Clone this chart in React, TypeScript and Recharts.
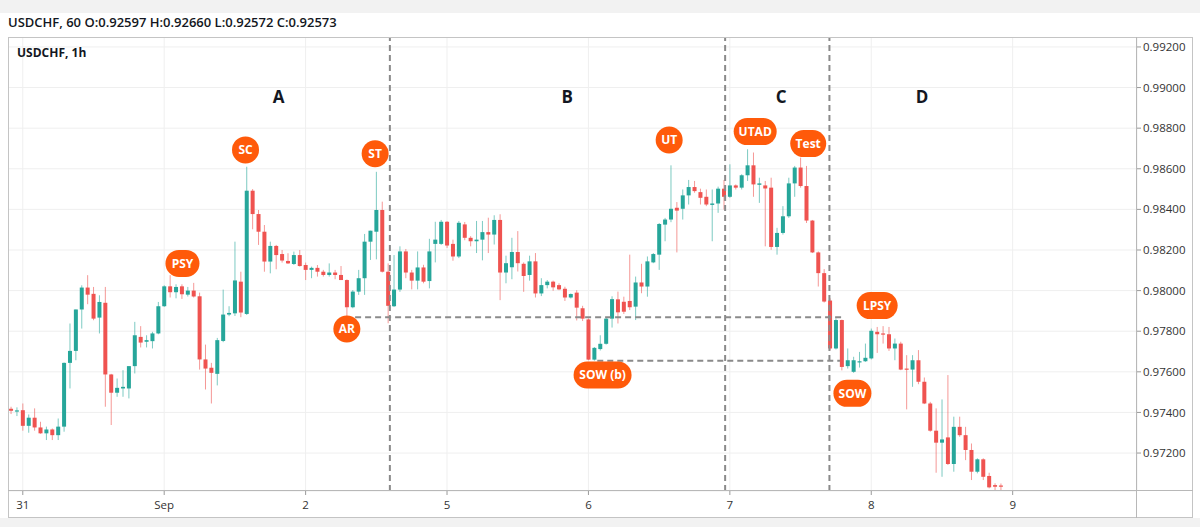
import React from 'react';
import { ComposedChart, Bar, XAxis, YAxis, CartesianGrid, ReferenceLine, ReferenceDot } from 'recharts';

// ---- hourly USDCHF candles (index = hour since Aug 30 22:00) ----
const opens = [
  0.97418, 0.97405, 0.97411, 0.97334, 0.97374, 0.97326, 0.97297, 0.97316, 0.97288, 0.97330,
  0.97644, 0.97703, 0.97907, 0.98015, 0.97984, 0.97867, 0.97940, 0.97587, 0.97497, 0.97518,
  0.97518, 0.97628, 0.97772, 0.97748, 0.97751, 0.97789, 0.97923, 0.98021, 0.97992, 0.98021,
  0.97980, 0.98000, 0.97972, 0.97661, 0.97620, 0.97590, 0.97752, 0.97882, 0.97888, 0.98044,
  0.97885, 0.98492, 0.98377, 0.98290, 0.98143, 0.98220, 0.98180, 0.98146, 0.98131, 0.98175,
  0.98126, 0.98102, 0.98112, 0.98093, 0.98077, 0.98089, 0.98077, 0.98052, 0.97918, 0.97995,
  0.98061, 0.98241, 0.98290, 0.98397, 0.98093, 0.97923, 0.98005, 0.98193, 0.98089, 0.98049,
  0.98114, 0.98047, 0.98230, 0.98230, 0.98339, 0.98230, 0.98168, 0.98326, 0.98260, 0.98243,
  0.98251, 0.98288, 0.98276, 0.98348, 0.98089, 0.98115, 0.98190, 0.98132, 0.98077, 0.98144,
  0.97986, 0.98027, 0.98044, 0.98027, 0.98009, 0.97966, 0.97990, 0.97913, 0.97858, 0.97660,
  0.97712, 0.97738, 0.97862, 0.97957, 0.97945, 0.97949, 0.97921, 0.98040, 0.98020, 0.98139,
  0.98177, 0.98325, 0.98350, 0.98408, 0.98403, 0.98469, 0.98510, 0.98485, 0.98462, 0.98422,
  0.98429, 0.98502, 0.98462, 0.98518, 0.98507, 0.98568, 0.98617, 0.98521, 0.98518, 0.98507,
  0.98215, 0.98284, 0.98366, 0.98528, 0.98606, 0.98515, 0.98345, 0.98188, 0.98086, 0.97951,
  0.97715, 0.97855, 0.97628, 0.97600, 0.97647, 0.97652, 0.97666, 0.97797, 0.97789, 0.97785,
  0.97715, 0.97739, 0.97616, 0.97611, 0.97657, 0.97551, 0.97444, 0.97310, 0.97251, 0.97277,
  0.97146, 0.97329, 0.97288, 0.97215, 0.97108, 0.97169, 0.97087, 0.97042, 0.97040,
];
const highs = [
  0.97428, 0.97425, 0.97444, 0.97390, 0.97420, 0.97354, 0.97330, 0.97321, 0.97370, 0.97646,
  0.97838, 0.97907, 0.98026, 0.98076, 0.98018, 0.97977, 0.98018, 0.97590, 0.97567, 0.97608,
  0.97628, 0.97846, 0.97825, 0.97780, 0.97797, 0.97944, 0.98026, 0.98076, 0.98031, 0.98031,
  0.98018, 0.98038, 0.97990, 0.97734, 0.97644, 0.97767, 0.98005, 0.97923, 0.98241, 0.98093,
  0.98610, 0.98500, 0.98397, 0.98323, 0.98241, 0.98225, 0.98200, 0.98184, 0.98192, 0.98200,
  0.98138, 0.98118, 0.98126, 0.98102, 0.98134, 0.98102, 0.98121, 0.98055, 0.98003, 0.98102,
  0.98279, 0.98295, 0.98585, 0.98438, 0.98134, 0.98175, 0.98218, 0.98205, 0.98102, 0.98193,
  0.98127, 0.98255, 0.98339, 0.98348, 0.98342, 0.98251, 0.98343, 0.98338, 0.98268, 0.98343,
  0.98343, 0.98359, 0.98371, 0.98376, 0.98172, 0.98260, 0.98293, 0.98139, 0.98172, 0.98185,
  0.98061, 0.98052, 0.98049, 0.98036, 0.98019, 0.97986, 0.98002, 0.97925, 0.97863, 0.97722,
  0.97780, 0.97866, 0.97972, 0.97995, 0.97970, 0.98177, 0.98069, 0.98132, 0.98168, 0.98185,
  0.98333, 0.98358, 0.98617, 0.98436, 0.98498, 0.98545, 0.98540, 0.98502, 0.98498, 0.98498,
  0.98512, 0.98545, 0.98622, 0.98523, 0.98573, 0.98696, 0.98680, 0.98556, 0.98540, 0.98556,
  0.98309, 0.98416, 0.98556, 0.98614, 0.98655, 0.98614, 0.98348, 0.98193, 0.98106, 0.97962,
  0.97863, 0.97857, 0.97715, 0.97674, 0.97698, 0.97739, 0.97813, 0.97821, 0.97825, 0.97821,
  0.97764, 0.97748, 0.97682, 0.97682, 0.97707, 0.97572, 0.97452, 0.97420, 0.97464, 0.97584,
  0.97379, 0.97379, 0.97329, 0.97247, 0.97174, 0.97174, 0.97103, 0.97051, 0.97050,
];
const lows = [
  0.97392, 0.97382, 0.97310, 0.97300, 0.97310, 0.97295, 0.97264, 0.97264, 0.97264, 0.97305,
  0.97518, 0.97657, 0.97813, 0.97933, 0.97854, 0.97789, 0.97428, 0.97338, 0.97477, 0.97477,
  0.97469, 0.97592, 0.97720, 0.97720, 0.97715, 0.97785, 0.97920, 0.97966, 0.97962, 0.97959,
  0.97971, 0.97966, 0.97611, 0.97513, 0.97444, 0.97533, 0.97746, 0.97874, 0.97875, 0.97869,
  0.97880, 0.98302, 0.98225, 0.98093, 0.98085, 0.98105, 0.98138, 0.98131, 0.98126, 0.98118,
  0.98052, 0.98061, 0.98069, 0.98069, 0.98069, 0.98056, 0.98052, 0.97872, 0.97913, 0.97979,
  0.97979, 0.98151, 0.98154, 0.98089, 0.97839, 0.97919, 0.97994, 0.98061, 0.98006, 0.98006,
  0.98036, 0.98011, 0.98139, 0.98225, 0.98210, 0.98147, 0.98160, 0.98248, 0.98218, 0.98185,
  0.98149, 0.98185, 0.98227, 0.97953, 0.98036, 0.98056, 0.98094, 0.97994, 0.98049, 0.97966,
  0.97973, 0.98011, 0.97999, 0.98002, 0.97949, 0.97961, 0.97853, 0.97850, 0.97657, 0.97655,
  0.97705, 0.97734, 0.97818, 0.97838, 0.97885, 0.97904, 0.97855, 0.97987, 0.97970, 0.98135,
  0.98102, 0.98243, 0.98337, 0.98188, 0.98350, 0.98424, 0.98482, 0.98424, 0.98416, 0.98243,
  0.98383, 0.98399, 0.98457, 0.98498, 0.98498, 0.98540, 0.98462, 0.98432, 0.98218, 0.98201,
  0.98177, 0.98276, 0.98358, 0.98462, 0.98507, 0.98333, 0.98185, 0.98020, 0.97941, 0.97706,
  0.97710, 0.97607, 0.97616, 0.97595, 0.97621, 0.97649, 0.97661, 0.97693, 0.97739, 0.97703,
  0.97657, 0.97608, 0.97415, 0.97526, 0.97539, 0.97441, 0.97305, 0.97103, 0.97083, 0.97141,
  0.97108, 0.97280, 0.97165, 0.97067, 0.97100, 0.97067, 0.97026, 0.97018, 0.97018,
];
const closes = [
  0.97408, 0.97410, 0.97334, 0.97374, 0.97326, 0.97297, 0.97316, 0.97288, 0.97330, 0.97644,
  0.97703, 0.97907, 0.98015, 0.97980, 0.97862, 0.97944, 0.97587, 0.97497, 0.97521, 0.97526,
  0.97628, 0.97780, 0.97744, 0.97756, 0.97789, 0.97923, 0.98021, 0.97992, 0.98018, 0.97982,
  0.98000, 0.97971, 0.97661, 0.97616, 0.97595, 0.97756, 0.97882, 0.97890, 0.98050, 0.97892,
  0.98492, 0.98377, 0.98290, 0.98143, 0.98220, 0.98175, 0.98148, 0.98134, 0.98175, 0.98121,
  0.98102, 0.98112, 0.98093, 0.98077, 0.98089, 0.98077, 0.98052, 0.97918, 0.97995, 0.98061,
  0.98241, 0.98295, 0.98397, 0.98093, 0.97925, 0.98005, 0.98193, 0.98089, 0.98049, 0.98114,
  0.98044, 0.98193, 0.98251, 0.98339, 0.98222, 0.98168, 0.98334, 0.98260, 0.98243, 0.98251,
  0.98288, 0.98276, 0.98348, 0.98089, 0.98135, 0.98190, 0.98135, 0.98072, 0.98144, 0.97986,
  0.98027, 0.98044, 0.98016, 0.98006, 0.97966, 0.97983, 0.97916, 0.97862, 0.97660, 0.97718,
  0.97738, 0.97862, 0.97958, 0.97893, 0.97896, 0.97918, 0.98040, 0.98020, 0.98144, 0.98180,
  0.98328, 0.98350, 0.98403, 0.98394, 0.98469, 0.98510, 0.98490, 0.98457, 0.98424, 0.98429,
  0.98502, 0.98462, 0.98518, 0.98507, 0.98568, 0.98617, 0.98523, 0.98528, 0.98503, 0.98215,
  0.98284, 0.98366, 0.98528, 0.98606, 0.98515, 0.98345, 0.98188, 0.98086, 0.97946, 0.97715,
  0.97855, 0.97624, 0.97657, 0.97657, 0.97652, 0.97669, 0.97802, 0.97785, 0.97785, 0.97715,
  0.97739, 0.97611, 0.97611, 0.97657, 0.97551, 0.97444, 0.97310, 0.97251, 0.97267, 0.97146,
  0.97329, 0.97288, 0.97215, 0.97108, 0.97169, 0.97083, 0.97031, 0.97034, 0.97036,
];

// ---- axes ----
const dayTicks = [2, 26, 50, 74, 98, 122, 146, 170];
const dayLabels = ['31', 'Sep', '2', '5', '6', '7', '8', '9'];
const priceTicks = [0.972, 0.974, 0.976, 0.978, 0.98, 0.982, 0.984, 0.986, 0.988, 0.99, 0.992];
const xDomain = [-0.509, 191.1];
const yDomain = [0.97013, 0.99249];

// ---- Wyckoff annotations (data coordinates) ----
const phaseNames = ['A', 'B', 'C', 'D'];
const phaseX = [45.4, 94.4, 130.7, 154.6];
const phasePrice = 0.98954;

const eventNames = ['PSY', 'SC', 'AR', 'ST', 'SOW (b)', 'UT', 'UTAD', 'Test', 'SOW', 'LPSY'];
const eventX = [29.1, 39.8, 57.0, 61.8, 100.4, 111.7, 126.3, 135.3, 142.8, 147.0];
const eventPrice = [0.98134, 0.98693, 0.97811, 0.98674, 0.97584, 0.98742, 0.98783, 0.98724, 0.97494, 0.97926];

const boundaryX = [64.3, 121.2, 138.9];
const levelPrice = [0.97869, 0.97655];
const levelStart = [58.4, 99.5];
const levelEnd = [141.4, 140.7];

const candles = opens.map((o, i) => ({ i, o, h: highs[i], l: lows[i], c: closes[i] }));

// ---- styles ----
const UP = '#26a69a';
const DOWN = '#ef5350';
const PILL = '#ff5a0a';
const pillWidth: Record<string, number> = {
  PSY: 34, SC: 27, AR: 27, ST: 27, 'SOW (b)': 58, UT: 27, UTAD: 43, Test: 36, SOW: 38, LPSY: 41,
};
const FONT = '"Open Sans", "Noto Sans", sans-serif';

const Candle = (props: any) => {
  const { x, y, width, height, payload } = props;
  if (!payload || !isFinite(x) || !isFinite(y) || !isFinite(height)) return null;
  const { o, h, l, c } = payload;
  const top = Math.min(y, y + height);
  const span = Math.abs(height);
  const range = h - l || 1e-9;
  const py = (p: number) => top + ((h - p) / range) * span;
  const cx = x + (width || 0) / 2;
  const color = c >= o ? UP : DOWN;
  const bTop = py(Math.max(o, c));
  const bBot = py(Math.min(o, c));
  return (
    <g>
      <line x1={cx} x2={cx} y1={top} y2={top + span} stroke={color} strokeOpacity={0.6} strokeWidth={1} />
      <rect x={cx - 2} y={bTop} width={4} height={Math.max(1.2, bBot - bTop)} fill={color} />
    </g>
  );
};

const Pill = ({ cx, cy, text }: any) => {
  if (!isFinite(cx) || !isFinite(cy)) return null;
  const w = pillWidth[text] || 34;
  const h = 27;
  return (
    <g>
      <rect x={cx - w / 2} y={cy - h / 2} width={w} height={h} rx={h / 2} ry={h / 2} fill={PILL} />
      <text x={cx} y={cy} dy="0.36em" textAnchor="middle" fill="#ffffff" fontSize={12} fontWeight={700} fontFamily={FONT}>
        {text}
      </text>
    </g>
  );
};

const Letter = ({ cx, cy, text }: any) => {
  if (!isFinite(cx) || !isFinite(cy)) return null;
  return (
    <text x={cx} y={cy} dy="0.36em" textAnchor="middle" fill="#131722" fontSize={17} fontWeight={700} fontFamily={FONT}>
      {text}
    </text>
  );
};

export default function App() {
  return (
    <div style={{ position: 'absolute', left: 0, top: 0, width: 1200, height: 527, background: '#f2f2f2', overflow: 'hidden', fontFamily: FONT }}>
      <div style={{ position: 'absolute', left: 0, top: 13, width: 1200, height: 505, background: '#ffffff' }} />
      <div style={{ position: 'absolute', left: 8, top: 13, height: 18, lineHeight: '18px', fontSize: 13, fontWeight: 600, color: '#131722', whiteSpace: 'nowrap' }}>
        USDCHF, 60 O:0.92597 H:0.92660 L:0.92572 C:0.92573
      </div>
      <div style={{ position: 'absolute', left: 8, top: 37 }}>
        <ComposedChart width={1185} height={481} data={candles} margin={{ top: 0, right: 0, bottom: 0, left: 0 }}>
          <CartesianGrid stroke="#efefef" />
          <XAxis
            type="number"
            dataKey="i"
            domain={xDomain}
            allowDataOverflow
            ticks={dayTicks}
            interval={0}
            tickFormatter={(v: number) => dayLabels[dayTicks.indexOf(v)] ?? ''}
            height={27}
            axisLine={false}
            tickSize={4}
            tickMargin={6}
            tickLine={{ stroke: '#9a9a9a' }}
            tick={{ fontSize: 11.5, fill: '#333333', fontFamily: FONT }}
          />
          <YAxis
            orientation="right"
            type="number"
            domain={yDomain}
            allowDataOverflow
            ticks={priceTicks}
            interval={0}
            tickFormatter={(v: number) => v.toFixed(5)}
            width={56}
            axisLine={false}
            tickSize={4}
            tickMargin={2}
            tickLine={{ stroke: '#9a9a9a' }}
            tick={{ fontSize: 11.5, fill: '#333333', fontFamily: FONT }}
          />
          <Bar dataKey={(d: any) => [d.l, d.h]} shape={Candle} barSize={4} isAnimationActive={false} />
          {boundaryX.map((bx, k) => (
            <ReferenceLine key={'v' + k} x={bx} stroke="#8a8a8a" strokeWidth={2} strokeDasharray="6 4" />
          ))}
          {levelPrice.map((p, k) => (
            <ReferenceLine
              key={'h' + k}
              segment={[{ x: levelStart[k], y: p }, { x: levelEnd[k], y: p }]}
              stroke="#8a8a8a"
              strokeWidth={2}
              strokeDasharray="6 4"
            />
          ))}
          {phaseNames.map((t, k) => (
            <ReferenceDot key={'p' + t} x={phaseX[k]} y={phasePrice} r={0} shape={(p: any) => <Letter cx={p.cx} cy={p.cy} text={t} />} />
          ))}
          {eventNames.map((t, k) => (
            <ReferenceDot key={'e' + t} x={eventX[k]} y={eventPrice[k]} r={0} shape={(p: any) => <Pill cx={p.cx} cy={p.cy} text={t} />} />
          ))}
        </ComposedChart>
      </div>
      {/* frame */}
      <div style={{ position: 'absolute', left: 8, top: 37, width: 1185, height: 481, boxSizing: 'border-box', border: '1px solid #c4c4c4', pointerEvents: 'none' }} />
      <div style={{ position: 'absolute', left: 1136, top: 37, width: 1, height: 481, background: '#b8b8b8' }} />
      <div style={{ position: 'absolute', left: 8, top: 490, width: 1185, height: 1, background: '#b8b8b8' }} />
      <div style={{ position: 'absolute', left: 17, top: 45, fontSize: 12, fontWeight: 700, color: '#131722', lineHeight: '16px', whiteSpace: 'nowrap' }}>
        USDCHF, 1h
      </div>
    </div>
  );
}
